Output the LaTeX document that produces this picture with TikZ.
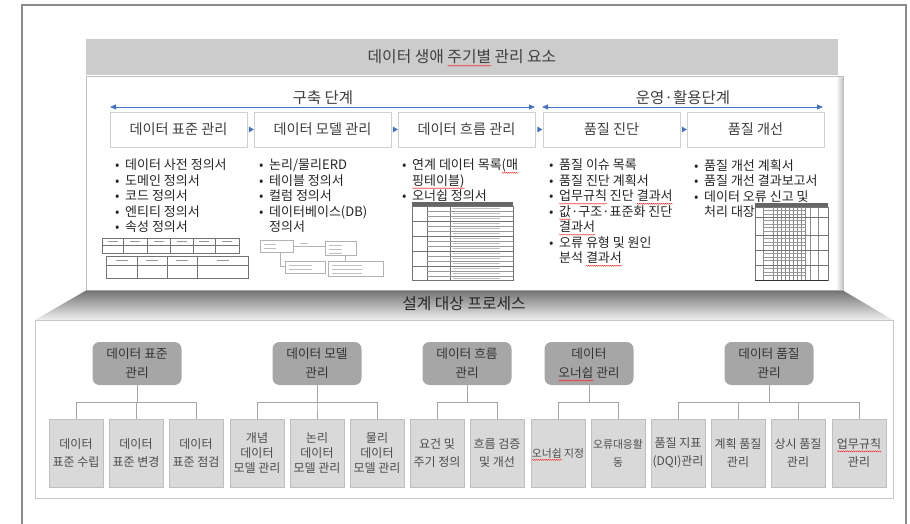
\documentclass[tikz,border=0pt]{standalone}
\usepackage{fontspec}
\setmainfont{Noto Sans CJK KR}
\usetikzlibrary{arrows.meta,shapes.geometric,decorations.pathmorphing}

\definecolor{phaseblue}{HTML}{4472C4}
\definecolor{hdrgray}{HTML}{CCCCCC}
\definecolor{parentgray}{HTML}{A6A6A6}
\definecolor{childgray}{HTML}{D9D9D9}
\definecolor{txtgray}{HTML}{404040}

\newsavebox{\wavybox}
\newcommand{\wavy}[1]{\sbox{\wavybox}{#1}\leavevmode\rlap{\smash{\tikz[x=1pt,y=1pt,baseline=0pt]
  \draw[red!85,line width=0.35pt,sharp corners,decorate,decoration={zigzag,segment length=2pt,amplitude=0.6pt}]
  (0pt,-2.8pt) -- (\the\wd\wavybox,-2.8pt);}}\usebox{\wavybox}}
\newcommand{\bul}{\makebox[10pt][l]{•}}
\newcommand{\ind}{\hspace*{10pt}}

\begin{document}
\begin{tikzpicture}[x=1pt,y=-1pt,>={Triangle[length=6pt,width=5pt]},
  every node/.style={text=txtgray},
  stagebox/.style={draw=black!18,fill=white,minimum width=137pt,minimum height=35pt,
    inner sep=0pt,font=\fontsize{14.2}{16}\selectfont},
  marker/.style={isosceles triangle,fill=phaseblue,inner sep=0pt,minimum height=5pt,
    minimum width=6pt,isosceles triangle stretches},
  phase/.style={draw=phaseblue,line width=0.8pt},
  bullets/.style={anchor=north west,align=left,inner sep=0pt,
    font=\fontsize{13}{15.5}\selectfont,text=black!85},
  parent/.style={rounded corners=7pt,fill=parentgray,minimum width=89pt,minimum height=43pt,
    align=center,inner sep=0pt,font=\fontsize{12.7}{19}\selectfont,text=black!80},
  child/.style={fill=childgray,draw=black!25,minimum width=54pt,minimum height=68pt,
    align=center,inner sep=0pt,font=\fontsize{12}{18}\selectfont,text=black!70},
  tight/.style={font=\fontsize{12}{15}\selectfont},
  narrow/.style={font=\fontsize{10.8}{18}\selectfont},
  tree/.style={draw=black!35,line width=0.6pt},
  thumb/.style={draw=black!55,line width=0.4pt},
  thumbtxt/.style={draw=black!40,line width=0.7pt}]
  \useasboundingbox (0,0) rectangle (910,524);

  % frame
  \draw[black!45,line width=1.2pt] (22,524) -- (22,5) -- (906,5) -- (906,524);

  % upper panel
  \draw[black!25,fill=white] (86,76) rectangle (843,290);
  \shade[left color=white,right color=black!22] (836,78) rectangle (842.5,289.5);
  \node[fill=hdrgray,minimum width=752pt,minimum height=36pt,inner sep=0pt,
    font=\fontsize{15.8}{17}\selectfont] (title) at (462,57) {데이터 생애 \wavy{주기별} 관리 요소};

  \node[font=\fontsize{15.5}{17}\selectfont] (build) at (323,98) {구축 단계};
  \node[font=\fontsize{15.5}{17}\selectfont] (operate) at (683,98) {운영·활용단계};
  \coordinate (bStart) at (110,107);
  \coordinate (bEnd) at (535,107);
  \coordinate (oStart) at (542,107);
  \coordinate (oEnd) at (823,107);
  \draw[<->,phase] (bStart) -- (bEnd);
  \draw[<->,phase] (oStart) -- (oEnd);

  \node[stagebox] (std) at (178.5,129.5) {데이터 표준 관리};
  \node[stagebox] (mdl) at (322.5,129.5) {데이터 모델 관리};
  \node[stagebox] (flw) at (466.5,129.5) {데이터 흐름 관리};
  \node[stagebox] (diag) at (611.5,129.5) {품질 진단};
  \node[stagebox] (impr) at (755.5,129.5) {품질 개선};
  \path (std) -- node[marker] {} (mdl);
  \path (mdl) -- node[marker] {} (flw);
  \path (flw) -- node[marker] {} (diag);
  \path (diag) -- node[marker] {} (impr);

  \node[bullets] (stdDocs) at (115,159) {\bul 데이터 사전 정의서\\ \bul 도메인 정의서\\
    \bul 코드 정의서\\ \bul 엔티티 정의서\\ \bul 속성 정의서};
  \node[bullets] (mdlDocs) at (259,159) {\bul 논리/물리ERD\\ \bul 테이블 정의서\\
    \bul 컬럼 정의서\\ \bul 데이터베이스(DB)\\ \ind 정의서};
  \node[bullets] (flwDocs) at (402,159) {\bul 연계 데이터 목록\wavy{(매}\\ \ind\wavy{핑테이블)}\\
    \bul \wavy{오너쉽} 정의서};
  \node[bullets] (diagDocs) at (549,159) {\bul 품질 이슈 목록\\ \bul 품질 진단 계획서\\
    \bul \wavy{업무규칙} 진단 \wavy{결과서}\\ \bul \wavy{값}·구조·표준화 진단\\ \ind\wavy{결과서}\\
    \bul 오류 유형 및 원인\\ \ind 분석 \wavy{결과서}};
  \node[bullets] (imprDocs) at (694,159) {\bul 품질 개선 계획서\\ \bul 품질 개선 결과보고서\\
    \bul 데이터 오류 신고 및\\ \ind 처리 대장};

  % thumbnail: standard tables
  \draw[thumb] (102,238) rectangle (239,253);
  \draw[thumb] (102,245) -- (239,245);
  \foreach \x in {123,147,170,193,215} \draw[thumb] (\x,238) -- (\x,253);
  \foreach \x in {112.5,135,158.5,181.5,204,227} \draw[thumbtxt] (\x-5,241.5) -- (\x+5,241.5);
  \draw[thumb] (106,256) rectangle (248,278);
  \draw[thumb] (106,265) -- (248,265);
  \foreach \x in {137,167,197} \draw[thumb] (\x,256) -- (\x,278);
  \foreach \x in {121.5,152,182,222.5} \draw[thumbtxt] (\x-6,260.5) -- (\x+6,260.5);

  % thumbnail: ERD
  \draw[thumb,draw=black!30] (260,240) rectangle (293,252);
  \draw[thumb,draw=black!30] (325,241) rectangle (356,255);
  \draw[thumb,draw=black!30] (285,261) rectangle (325,273);
  \draw[thumb,draw=black!30] (328,261) rectangle (383,276);
  \draw[thumb,draw=black!30] (293,246) -- (325,246);
  \draw[thumb,draw=black!30] (280,252) -- (280,266) -- (285,266);
  \draw[thumb,draw=black!30] (345,255) -- (345,261);
  \foreach \y in {244,248} \draw[thumbtxt,draw=black!25] (264,\y) -- (276,\y);
  \foreach \y in {245,249,253} \draw[thumbtxt,draw=black!25] (329,\y) -- (342,\y);
  \foreach \y in {265,269} \draw[thumbtxt,draw=black!25] (289,\y) -- (312,\y);
  \foreach \y in {265,269,273} \draw[thumbtxt,draw=black!25] (332,\y) -- (362,\y);
  \draw[thumbtxt,draw=black!25] (300,243) -- (308,243);

  % thumbnail: ownership table
  \fill[black!60] (412,202) rectangle (513,206);
  \draw[thumb] (412,206) rectangle (513,280);
  \foreach \x in {427,450} \draw[thumb] (\x,206) -- (\x,280);
  \foreach \y in {211,216,226,231,241,246,256,261,271,276} \draw[thumb,draw=black!40] (427,\y) -- (513,\y);
  \foreach \y in {221,236,251,266} \draw[thumb] (412,\y) -- (513,\y);
  \foreach \y in {208.5,213.5,218.5,223.5,228.5,233.5,238.5,243.5,248.5,253.5,258.5,263.5,268.5,273.5,278}
    \draw[thumbtxt,draw=black!25,line width=0.5pt] (453,\y) -- (500,\y);

  % thumbnail: error report table
  \fill[black!60] (755,203) rectangle (828,207);
  \draw[thumb] (755,207) rectangle (828,280);
  \foreach \x in {763,773,777,781,785,789,793,797,801,805,810,818} \draw[thumb,draw=black!45] (\x,207) -- (\x,280);
  \foreach \y in {210.5,214,220.5,224,227.5,231,238.5,242,245.5,253.5,257,260.5,268.5,272,275.5}
    \draw[thumb,draw=black!40] (763,\y) -- (805,\y);
  \foreach \y in {217,235,250,265} \draw[thumb] (755,\y) -- (828,\y);
  \draw[black!80,line width=1pt] (755,280) -- (828,280);

  % spotlight to process box
  \shade[top color=black!55,bottom color=black!6] (86,290.5) -- (843,290.5) -- (893,320) -- (35,320) -- cycle;
  \draw[black!22,fill=white] (35,320) rectangle (893,498);
  \node[font=\fontsize{15.8}{17}\selectfont,text=black!85] (proc) at (464,304) {설계 대상 프로세스};

  % process tree
  \node[parent] (pStd) at (137,363.5) {데이터 표준\\관리};
  \node[parent] (pMdl) at (317,363.5) {데이터 모델\\관리};
  \node[parent] (pFlw) at (467,363.5) {데이터 흐름\\관리};
  \node[parent] (pOwn) at (589,363.5) {데이터\\\wavy{오너쉽} 관리};
  \node[parent] (pQlt) at (769,363.5) {데이터 품질\\관리};

  \node[child] (cStd1) at (76,453) {데이터\\표준 수립};
  \node[child] (cStd2) at (136,453) {데이터\\표준 변경};
  \node[child] (cStd3) at (196,453) {데이터\\표준 점검};
  \node[child,tight] (cMdl1) at (257,453) {개념\\데이터\\모델 관리};
  \node[child,tight] (cMdl2) at (317,453) {논리\\데이터\\모델 관리};
  \node[child,tight] (cMdl3) at (377,453) {물리\\데이터\\모델 관리};
  \node[child] (cFlw1) at (437,453) {요건 및\\주기 정의};
  \node[child] (cFlw2) at (497,453) {흐름 검증\\및 개선};
  \node[child,narrow] (cOwn1) at (558,453) {\wavy{오너쉽} 지정};
  \node[child,narrow] (cOwn2) at (618,453) {오류대응활\\동};
  \node[child] (cQlt1) at (678,453) {품질 지표\\(DQI)관리};
  \node[child] (cQlt2) at (738,453) {계획 품질\\관리};
  \node[child] (cQlt3) at (798,453) {상시 품질\\관리};
  \node[child] (cQlt4) at (859,453) {\wavy{업무규칙}\\관리};

  \foreach \c in {cStd1,cStd2,cStd3} \draw[tree] (pStd.south) -- ++(0,17.5) -| (\c.north);
  \foreach \c in {cMdl1,cMdl2,cMdl3} \draw[tree] (pMdl.south) -- ++(0,17.5) -| (\c.north);
  \foreach \c in {cFlw1,cFlw2} \draw[tree] (pFlw.south) -- ++(0,17.5) -| (\c.north);
  \foreach \c in {cOwn1,cOwn2} \draw[tree] (pOwn.south) -- ++(0,17.5) -| (\c.north);
  \foreach \c in {cQlt1,cQlt2,cQlt3,cQlt4} \draw[tree] (pQlt.south) -- ++(0,17.5) -| (\c.north);
\end{tikzpicture}
\end{document}
